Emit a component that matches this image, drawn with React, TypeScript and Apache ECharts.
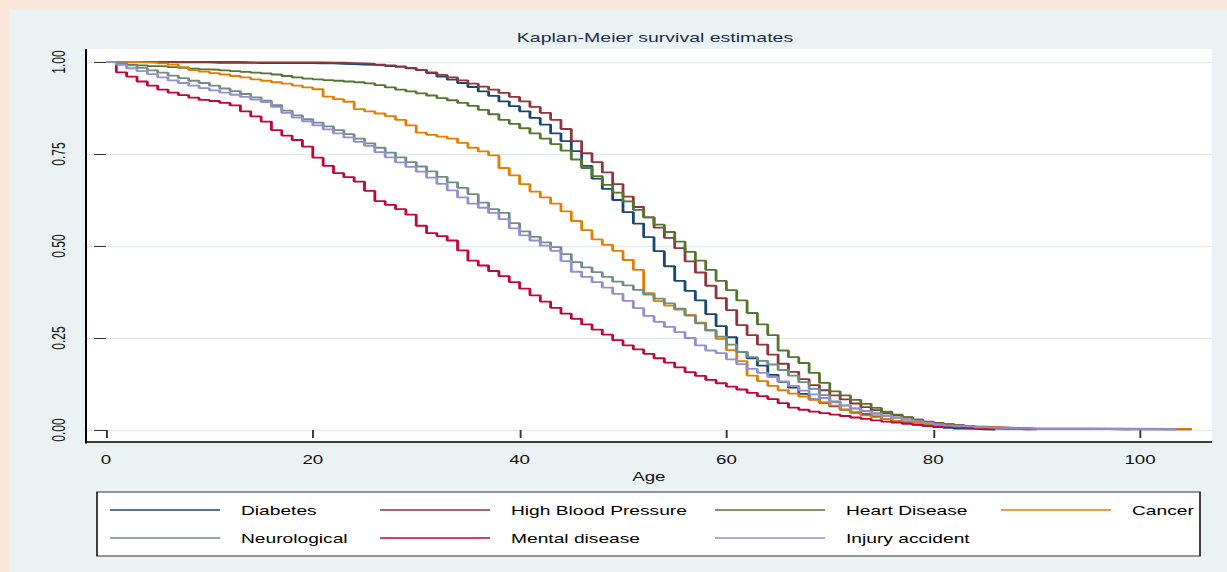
import React, { useEffect, useRef } from "react";
import * as echarts from "echarts";

// ---------- data ----------
const AGES = [
  0, 1, 2, 3, 4, 5, 6, 7, 8, 9,
  10, 11, 12, 13, 14, 15, 16, 17, 18, 19,
  20, 21, 22, 23, 24, 25, 26, 27, 28, 29,
  30, 31, 32, 33, 34, 35, 36, 37, 38, 39,
  40, 41, 42, 43, 44, 45, 46, 47, 48, 49,
  50, 51, 52, 53, 54, 55, 56, 57, 58, 59,
  60, 61, 62, 63, 64, 65, 66, 67, 68, 69,
  70, 71, 72, 73, 74, 75, 76, 77, 78, 79,
  80, 81, 82, 83, 84, 85, 86, 87, 88, 89,
  90, 95, 99, 103.5, 105,
];

const DIABETES = [
  1, 1, 1, 1, 1, 1, 0.999, 0.999, 0.999, 0.999,
  0.998, 0.998, 0.998, 0.998, 0.997, 0.997, 0.997, 0.997, 0.997, 0.997,
  0.996, 0.996, 0.995, 0.994, 0.993, 0.992, 0.991, 0.989, 0.987, 0.983,
  0.978, 0.97, 0.96, 0.952, 0.943, 0.932, 0.92, 0.908, 0.893, 0.88,
  0.866, 0.848, 0.83, 0.806, 0.785, 0.758, 0.718, 0.683, 0.655, 0.625,
  0.592, 0.561, 0.524, 0.486, 0.445, 0.405, 0.378, 0.352, 0.315, 0.282,
  0.252, 0.212, 0.195, 0.175, 0.15, 0.131, 0.115, 0.098, 0.083, 0.074,
  0.064, 0.055, 0.048, 0.043, 0.037, 0.03, 0.024, 0.019, 0.015, 0.011,
  0.008, 0.006, 0.004, 0.003, 0.002, 0.001, null, null, null, null,
  null, null, null, null, null,
];

const HIGH_BLOOD_PRESSURE = [
  1, 1, 1, 1, 1, 1, 1, 1, 1, 1,
  1, 1, 1, 0.999, 0.999, 0.999, 0.999, 0.999, 0.999, 0.999,
  0.999, 0.998, 0.998, 0.997, 0.996, 0.995, 0.993, 0.991, 0.988, 0.984,
  0.978, 0.972, 0.965, 0.958, 0.95, 0.941, 0.933, 0.925, 0.916, 0.905,
  0.893, 0.878, 0.862, 0.843, 0.818, 0.785, 0.752, 0.728, 0.7, 0.668,
  0.634, 0.606, 0.578, 0.55, 0.522, 0.494, 0.458, 0.428, 0.392, 0.358,
  0.326, 0.285, 0.258, 0.232, 0.205, 0.18, 0.158, 0.138, 0.122, 0.108,
  0.094, 0.083, 0.072, 0.062, 0.054, 0.046, 0.04, 0.034, 0.028, 0.023,
  0.019, 0.016, 0.013, 0.011, 0.009, 0.008, 0.007, 0.006, 0.005, 0.004,
  0.004, 0.003, 0.002, 0.002, 0.001,
];

const HEART_DISEASE = [
  1, 0.996, 0.993, 0.991, 0.989, 0.988, 0.986, 0.984, 0.982, 0.98,
  0.979, 0.977, 0.975, 0.973, 0.971, 0.969, 0.966, 0.962, 0.958, 0.955,
  0.953, 0.951, 0.949, 0.947, 0.945, 0.942, 0.937, 0.931, 0.925, 0.92,
  0.915, 0.909, 0.902, 0.896, 0.889, 0.881, 0.87, 0.858, 0.843, 0.832,
  0.82, 0.806, 0.792, 0.777, 0.759, 0.735, 0.712, 0.69, 0.666, 0.645,
  0.621, 0.598, 0.578, 0.558, 0.538, 0.512, 0.484, 0.46, 0.435, 0.405,
  0.38, 0.352, 0.318, 0.287, 0.258, 0.216, 0.198, 0.182, 0.155, 0.128,
  0.105, 0.094, 0.082, 0.071, 0.06, 0.05, 0.042, 0.035, 0.028, 0.022,
  0.018, 0.015, 0.012, 0.01, 0.008, 0.006, 0.005, 0.004, 0.004, 0.003,
  0.003, 0.002, null, null, null,
];

const CANCER = [
  1, 1, 1, 0.999, 0.998, 0.996, 0.993, 0.986, 0.978, 0.974,
  0.97, 0.966, 0.962, 0.958, 0.953, 0.949, 0.945, 0.941, 0.936, 0.931,
  0.926, 0.906, 0.899, 0.892, 0.872, 0.866, 0.86, 0.853, 0.843, 0.828,
  0.808, 0.802, 0.797, 0.792, 0.78, 0.767, 0.757, 0.746, 0.712, 0.692,
  0.668, 0.648, 0.632, 0.615, 0.594, 0.568, 0.543, 0.518, 0.503, 0.487,
  0.462, 0.435, 0.372, 0.35, 0.338, 0.327, 0.313, 0.292, 0.272, 0.248,
  0.217, 0.187, 0.148, 0.133, 0.12, 0.108, 0.099, 0.091, 0.082, 0.075,
  0.066, 0.055, 0.046, 0.04, 0.035, 0.03, 0.025, 0.022, 0.019, 0.016,
  0.014, 0.012, 0.01, 0.009, 0.008, 0.007, 0.006, 0.005, 0.005, 0.004,
  0.004, 0.004, 0.003, 0.003, null,
];

const NEUROLOGICAL = [
  1, 0.996, 0.991, 0.984, 0.977, 0.971, 0.963, 0.956, 0.949, 0.943,
  0.936, 0.928, 0.921, 0.913, 0.904, 0.895, 0.883, 0.868, 0.855, 0.845,
  0.835, 0.825, 0.815, 0.804, 0.792, 0.779, 0.767, 0.754, 0.741, 0.728,
  0.716, 0.703, 0.688, 0.673, 0.658, 0.641, 0.618, 0.6, 0.59, 0.562,
  0.54, 0.525, 0.51, 0.497, 0.478, 0.456, 0.442, 0.429, 0.416, 0.403,
  0.393, 0.381, 0.368, 0.357, 0.344, 0.33, 0.311, 0.29, 0.27, 0.254,
  0.232, 0.212, 0.198, 0.188, 0.178, 0.163, 0.148, 0.13, 0.112, 0.095,
  0.078, 0.067, 0.059, 0.052, 0.046, 0.04, 0.034, 0.028, 0.024, 0.019,
  0.015, 0.012, 0.01, 0.009, 0.007, 0.006, 0.005, 0.004, 0.004, 0.003,
  0.003, 0.002, 0.002, null, null,
];

const MENTAL_DISEASE = [
  1, 0.972, 0.96, 0.947, 0.936, 0.925, 0.917, 0.91, 0.903, 0.897,
  0.894, 0.889, 0.882, 0.866, 0.852, 0.838, 0.815, 0.8, 0.788, 0.77,
  0.74, 0.718, 0.698, 0.687, 0.675, 0.65, 0.622, 0.612, 0.6, 0.585,
  0.555, 0.535, 0.527, 0.515, 0.488, 0.46, 0.447, 0.432, 0.418, 0.402,
  0.384, 0.366, 0.349, 0.332, 0.316, 0.302, 0.287, 0.273, 0.259, 0.244,
  0.23, 0.219, 0.207, 0.195, 0.183, 0.17, 0.157, 0.147, 0.136, 0.127,
  0.118, 0.11, 0.101, 0.092, 0.084, 0.073, 0.061, 0.055, 0.05, 0.046,
  0.042, 0.038, 0.034, 0.03, 0.026, 0.023, 0.02, 0.017, 0.014, 0.011,
  0.009, 0.008, 0.007, 0.006, 0.005, 0.004, 0.003, 0.003, 0.002, 0.002,
  null, null, null, null, null,
];

const INJURY_ACCIDENT = [
  1, 0.992, 0.983, 0.975, 0.967, 0.958, 0.95, 0.943, 0.936, 0.929,
  0.923, 0.917, 0.911, 0.905, 0.898, 0.891, 0.878, 0.862, 0.849, 0.839,
  0.828, 0.817, 0.806, 0.795, 0.783, 0.772, 0.755, 0.741, 0.727, 0.715,
  0.702, 0.686, 0.669, 0.651, 0.632, 0.615, 0.604, 0.59, 0.573, 0.548,
  0.529, 0.515, 0.501, 0.487, 0.459, 0.43, 0.416, 0.402, 0.387, 0.37,
  0.351, 0.331, 0.31, 0.294, 0.28, 0.266, 0.25, 0.23, 0.216, 0.209,
  0.192, 0.179, 0.166, 0.155, 0.144, 0.132, 0.12, 0.107, 0.097, 0.087,
  0.075, 0.066, 0.058, 0.051, 0.044, 0.038, 0.033, 0.028, 0.024, 0.019,
  0.015, 0.012, 0.01, 0.009, 0.007, 0.006, 0.005, 0.004, 0.004, 0.003,
  0.003, 0.002, 0.002, null, null,
];

const SERIES_NAMES = [
  "Diabetes",
  "High Blood Pressure",
  "Heart Disease",
  "Cancer",
  "Neurological",
  "Mental disease",
  "Injury accident",
];
const SERIES_VALUES = [
  DIABETES,
  HIGH_BLOOD_PRESSURE,
  HEART_DISEASE,
  CANCER,
  NEUROLOGICAL,
  MENTAL_DISEASE,
  INJURY_ACCIDENT,
];
const SERIES_COLORS = [
  "#1a476f",
  "#90353b",
  "#55752f",
  "#e37e00",
  "#6e8e84",
  "#c10534",
  "#938dd2",
];
const X_TICKS = [0, 20, 40, 60, 80, 100];
const TITLE = "Kaplan-Meier survival estimates";
const X_NAME = "Age";

// ---------- layout (reference pixels, drawn in a horizontally stretched canvas) ----------
const W = 1227;
const H = 572;
const LW = 786;
const S = W / LW;
const lx = (px: number) => px / S;
const FONT = "'Liberation Sans', Arial, Helvetica, sans-serif";

const PX0 = 106; // age 0
const PX_PER = 10.34; // pixels per year
const X_MIN = -2;
const X_MAX = 107;

const LEG_LINE_X = [110, 380, 715, 1001];
const LEG_ROW_Y = [510, 538];

function buildOption(): any {
  const gridLeftPx = PX0 + X_MIN * PX_PER;
  const gridRightPx = PX0 + X_MAX * PX_PER;

  const series = SERIES_NAMES.map((name, i) => ({
    name,
    type: "line",
    step: "end",
    showSymbol: false,
    symbol: "none",
    connectNulls: false,
    color: SERIES_COLORS[i],
    itemStyle: { color: SERIES_COLORS[i] },
    lineStyle: { color: SERIES_COLORS[i], width: 1.8 },
    data: AGES.map((a, j) => [a, SERIES_VALUES[i][j]]),
    z: 3 + i,
  }));

  const legends = SERIES_NAMES.map((name, i) => ({
    data: [name],
    left: lx(LEG_LINE_X[i % 4]),
    top: LEG_ROW_Y[Math.floor(i / 4)] - 7,
    padding: 0,
    orient: "horizontal",
    icon: "rect",
    itemWidth: lx(110),
    itemHeight: 1.6,
    selectedMode: false,
    textStyle: {
      fontSize: 12.3,
      lineHeight: 14,
      color: "#000",
      fontFamily: FONT,
      padding: [0, 0, 0, lx(131) - lx(110) - 5],
    },
  }));

  return {
    animation: false,
    backgroundColor: "transparent",
    title: {
      text: TITLE,
      left: lx(655),
      top: 31,
      textAlign: "center",
      padding: 0,
      textStyle: {
        fontSize: 12.5,
        fontWeight: "normal",
        color: "#1e2e4c",
        fontFamily: FONT,
      },
    },
    legend: legends,
    grid: {
      left: lx(gridLeftPx),
      width: lx(gridRightPx) - lx(gridLeftPx),
      top: 62,
      height: 368,
      containLabel: false,
    },
    xAxis: {
      type: "value",
      min: X_MIN,
      max: X_MAX,
      splitNumber: 5,
      offset: 12,
      axisLine: { show: false },
      axisTick: {
        show: true,
        length: 8,
        customValues: X_TICKS,
        lineStyle: { color: "#333", width: 1.2 },
      },
      axisLabel: {
        customValues: X_TICKS,
        fontSize: 12,
        margin: 12,
        color: "#111",
        fontFamily: FONT,
      },
      splitLine: { show: false },
      name: X_NAME,
      nameLocation: "middle",
      nameGap: 25,
      nameTextStyle: { fontSize: 12, color: "#111", fontFamily: FONT },
    },
    yAxis: {
      type: "value",
      min: 0,
      max: 1,
      interval: 0.25,
      axisLine: { show: false },
      axisTick: {
        show: true,
        length: lx(12),
        lineStyle: { color: "#333", width: 1 },
      },
      axisLabel: {
        rotate: 90,
        formatter: (v: number) => v.toFixed(2),
        fontSize: 12,
        margin: 11,
        color: "#111",
        fontFamily: FONT,
      },
      splitLine: { show: true, lineStyle: { color: "#e3ebee", width: 1.3 } },
    },
    graphic: [
      {
        type: "rect",
        z: -10,
        shape: { x: lx(10), y: 10, width: LW - lx(10), height: H - 10 },
        style: { fill: "#eaf2f3" },
        silent: true,
      },
      {
        type: "rect",
        z: -9,
        shape: { x: lx(86), y: 49, width: lx(1212) - lx(86), height: 393 },
        style: { fill: "#ffffff" },
        silent: true,
      },
      {
        type: "rect",
        z: 5,
        shape: { x: lx(85), y: 49, width: lx(2), height: 394.5 },
        style: { fill: "#000" },
        silent: true,
      },
      {
        type: "rect",
        z: 5,
        shape: { x: lx(85), y: 441.3, width: lx(1212) - lx(85), height: 1.4 },
        style: { fill: "#000" },
        silent: true,
      },
      {
        type: "rect",
        z: -8,
        shape: { x: lx(97), y: 492, width: lx(1200) - lx(97), height: 64 },
        style: { fill: "#ffffff", stroke: "#333", lineWidth: 1.2 },
        silent: true,
      },
    ],
    series,
  };
}

export default function App() {
  const ref = useRef<HTMLDivElement>(null);
  useEffect(() => {
    if (!ref.current) return;
    const chart = echarts.init(ref.current, null, {
      renderer: "svg",
      width: LW,
      height: H,
    });
    chart.setOption(buildOption());
    return () => {
      chart.dispose();
    };
  }, []);
  return (
    <div
      style={{
        position: "absolute",
        left: 0,
        top: 0,
        width: W,
        height: H,
        background: "#fce8db",
        overflow: "hidden",
      }}
    >
      <div
        ref={ref}
        style={{
          width: LW,
          height: H,
          transform: `scaleX(${S})`,
          transformOrigin: "0 0",
        }}
      />
    </div>
  );
}
